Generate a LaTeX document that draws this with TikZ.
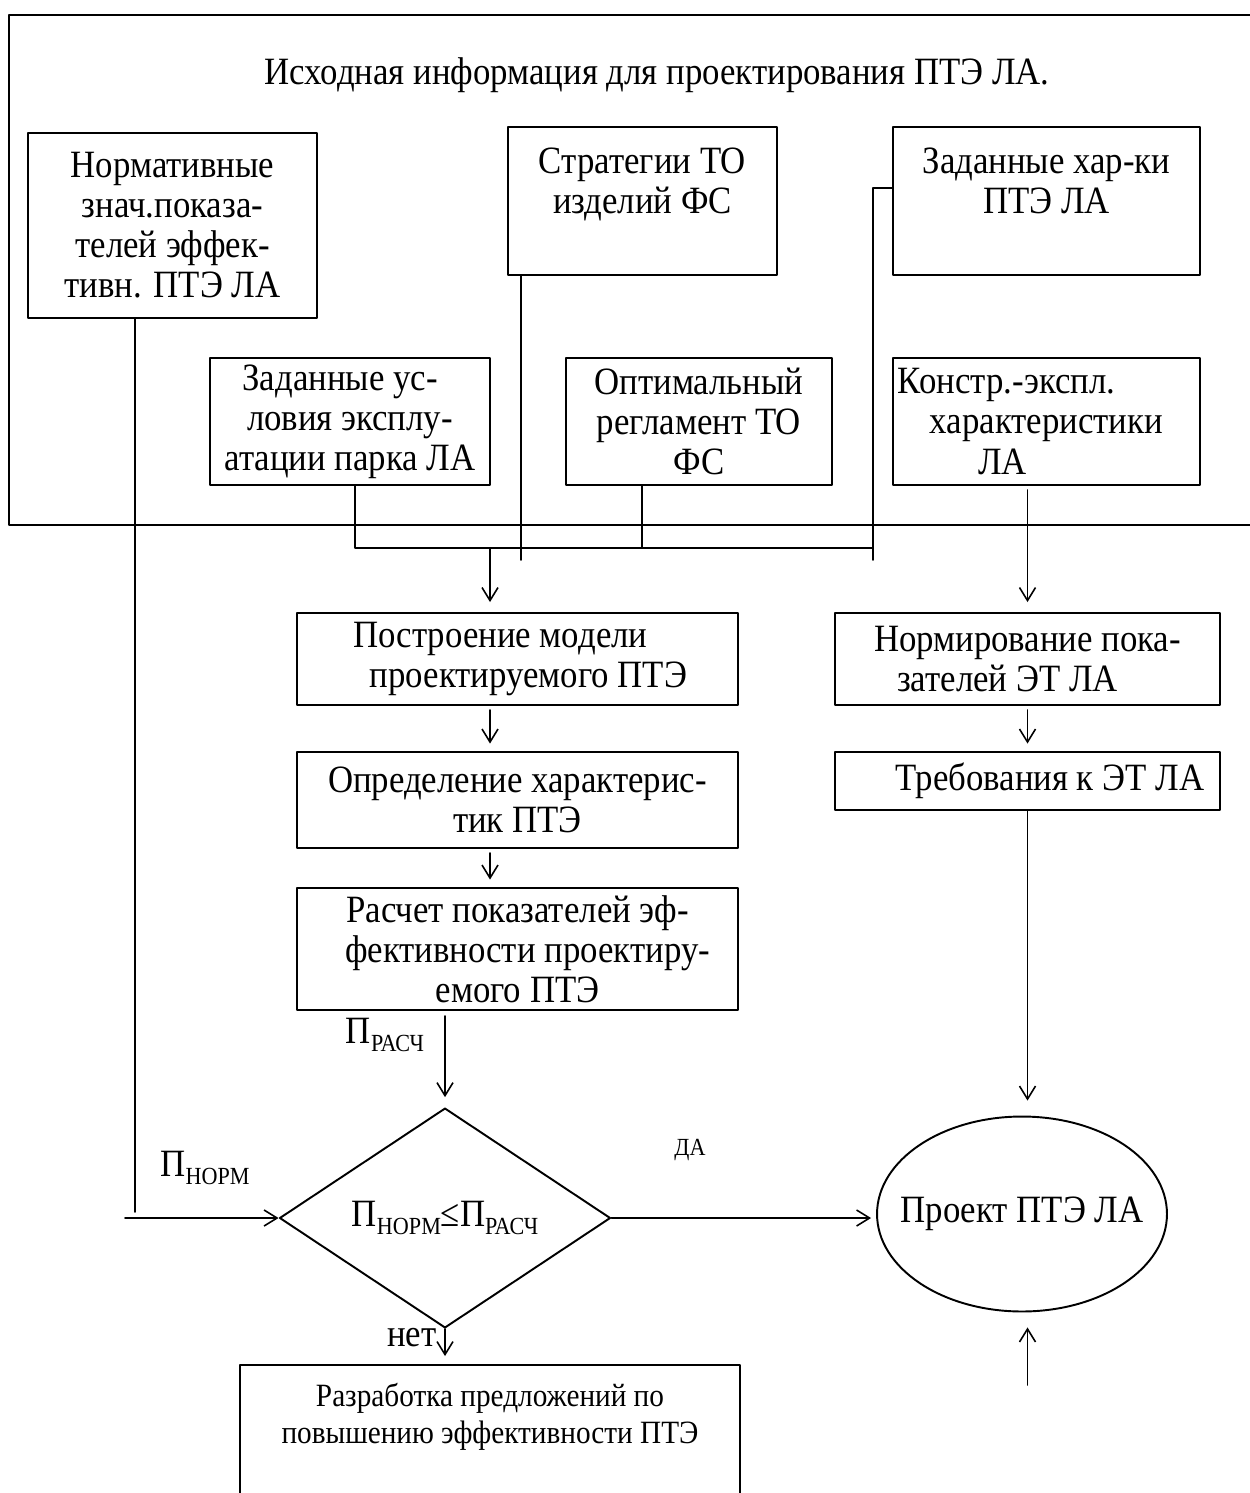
\documentclass[tikz,border=0pt]{standalone}
\usepackage{fontspec}
\setmainfont{Liberation Serif}[FakeStretch=0.9]
\usepackage{tikz}
\usetikzlibrary{arrows.meta,shapes.geometric}
\tikzset{
  every picture/.style={line join=round, line cap=round, >={Straight Barb[length=2.6mm,width=3.2mm]}},
  blk/.style={draw, line width=1.1pt, rectangle, align=center, inner sep=0pt, font=\fontsize{22}{22.8}\selectfont},
  lbl/.style={inner sep=0pt, align=center, font=\fontsize{22}{22.8}\selectfont},
  con/.style={line width=0.9pt},
}
\newcommand{\indx}[1]{П\raisebox{-0.45ex}{\fontsize{14}{14}\selectfont #1}}

\begin{document}
\begin{tikzpicture}[x=0.02cm,y=-0.02cm]
\useasboundingbox (0,0) rectangle (1249,1493);
% source data frame
\draw[line width=1.1pt] (1270,15) -- (9,15) -- (9,525) -- (1270,525);
\node[lbl] (title) at (657,75) {Исходная информация для проектирования ПТЭ ЛА.};
\node[blk, minimum width=5.78cm, minimum height=3.7cm] (norm) at (172.5,225.5) {Нормативные\\знач.показа-\\телей эффек-\\тивн. ПТЭ ЛА};
\node[blk, minimum width=5.38cm, minimum height=2.96cm] (strat) at (642.5,201) {Стратегии ТО\\изделий ФС\\~};
\node[blk, minimum width=6.14cm, minimum height=2.96cm] (zadh) at (1046.5,201) {Заданные хар-ки\\ПТЭ ЛА\hspace*{0.6cm}\\~};
\node[blk, minimum width=5.6cm, minimum height=2.54cm] (usl) at (350,421.5) {Заданные ус-\hspace*{0.4cm}\\ловия эксплу-\\атации парка ЛА};
\node[blk, minimum width=5.32cm, minimum height=2.54cm] (reglam) at (699,421.5) {Оптимальный\\регламент ТО\\ФС};
\node[blk, minimum width=6.14cm, minimum height=2.54cm] (konstr) at (1046.5,421.5) {Констр.-экспл.\hspace*{1.6cm}\\характеристики\hspace*{0.76cm}\\ЛА\hspace*{1.76cm}};
% design steps
\node[blk, minimum width=8.82cm, minimum height=1.84cm] (model) at (517.5,659) {Построение модели\hspace*{0.68cm}\\\hspace*{0.44cm}проектируемого ПТЭ};
\node[blk, minimum width=8.82cm, minimum height=1.92cm] (harakt) at (517.5,800) {Определение характерис-\\тик ПТЭ};
\node[blk, minimum width=8.82cm, minimum height=2.44cm] (raschet) at (517.5,949) {Расчет показателей эф-\\\hspace*{0.4cm}фективности проектиру-\\емого ПТЭ};
\node[blk, minimum width=7.7cm, minimum height=1.84cm] (normir) at (1027.5,659) {Нормирование пока-\\зателей ЭТ ЛА\hspace*{0.8cm}};
\node[blk, minimum width=7.7cm, minimum height=1.16cm] (treb) at (1027.5,781) {\hspace*{0.9cm}Требования к ЭТ ЛА};
\node[blk, shape=diamond, minimum width=6.62cm, minimum height=3.4cm] (check) at (445,1218) {\indx{НОРМ}≤\indx{РАСЧ}};
\node[blk, shape=ellipse, minimum width=5.8cm, minimum height=3.9cm, label={[lbl]center:Проект ПТЭ ЛА}] (proj) at (1022,1214) {};
\node[blk, minimum width=10cm, minimum height=3.4cm, font=\fontsize{18.5}{21}\selectfont] (razr) at (490,1450) {Разработка предложений по\\повышению эффективности ПТЭ\\~\\~};
% connectors
\coordinate (nb) at (135,1212);
\coordinate (na) at (125,1218);
\draw[con] (norm.south -| nb) -- (nb);
\draw[con,->] (na) -- (check.west);
\coordinate (b1) at (355,548);
\coordinate (b2) at (873,548);
\coordinate (b3) at (490,548);
\coordinate (b4) at (642,548);
\draw[con] (usl.south -| b1) -- (b1) -- (b2);
\draw[con] (reglam.south -| b4) -- (b4);
\coordinate (s1) at (521,560);
\draw[con] (strat.south -| s1) -- (s1);
\coordinate (z1) at (873,188);
\coordinate (z2) at (873,560);
\draw[con] (zadh.west |- z1) -- (z1) -- (z2);
\draw[con,->,shorten >=0.2cm] (b3) -- (model.north -| b3);
\draw[con,->,shorten <=0.08cm,shorten >=0.15cm] (model.south -| b3) -- (harakt.north -| b3);
\draw[con,->,shorten <=0.08cm,shorten >=0.15cm] (harakt.south -| b3) -- (raschet.north -| b3);
\draw[con,->,shorten <=0.1cm,shorten >=0.2cm] (raschet.south -| check.north) -- (check.north);
\draw[con,->,shorten <=0.08cm,shorten >=0.2cm] (konstr.south -| normir.north) -- (normir.north);
\draw[con,->,shorten <=0.08cm,shorten >=0.15cm] (normir.south) -- (treb.north);
\draw[con,->,shorten >=0.3cm] (treb.south) -- (treb.south |- proj.north);
\draw[con,->,shorten >=0.1cm] (check.east) -- (check.east -| proj.west);
\coordinate (pf) at (1027.5,1385);
\draw[con,->,shorten >=0.3cm] (pf) -- (pf |- proj.south);
\draw[con,->,shorten >=0.16cm] (check.south) -- (razr.north -| check.south);
% labels
\node[lbl] (pnorm) at (205,1168) {\indx{НОРМ}};
\node[lbl] (prasch) at (385,1035) {\indx{РАСЧ}};
\node[inner sep=0pt, font=\fontsize{14}{14}\selectfont] (da) at (690,1150) {ДА};
\node[lbl] (net) at (412,1338) {нет};
\end{tikzpicture}
\end{document}
